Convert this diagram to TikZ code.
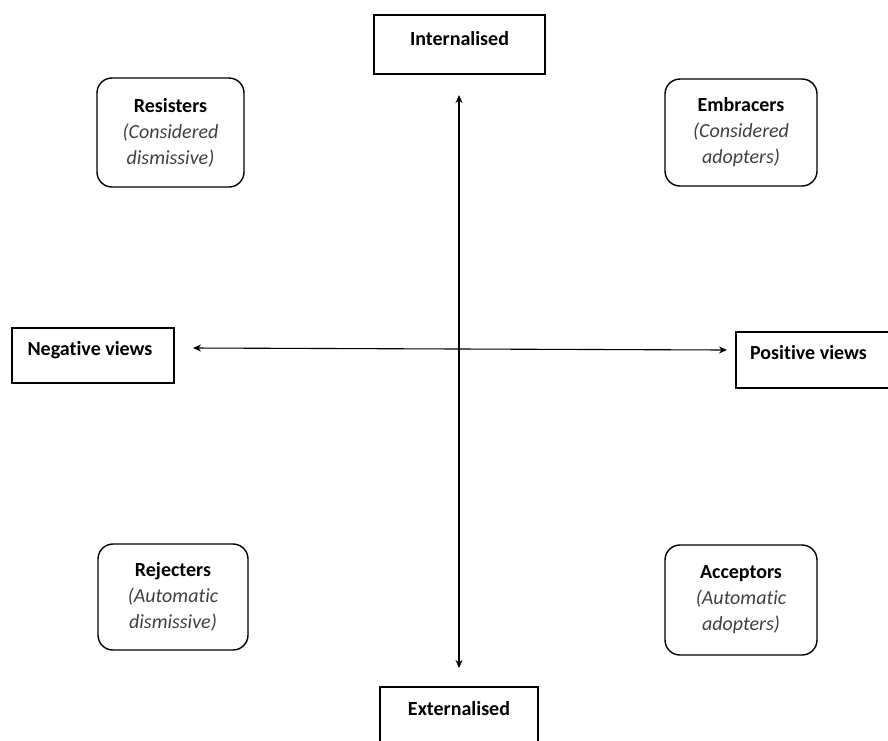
\documentclass[tikz,border=0pt]{standalone}
\usepackage{fontspec}
\setmainfont{Carlito}[Ligatures={NoCommon,NoContextual}]
\usetikzlibrary{arrows.meta}
\definecolor{sub}{HTML}{404040}
\begin{document}
\begin{tikzpicture}[x=1pt,y=-1pt,
  axisbox/.style={draw, line width=1.4pt, inner sep=0pt},
  quadbox/.style={draw, line width=1.4pt, rounded corners=15pt, inner sep=0pt, align=center,
    font=\fontsize{20}{26}\selectfont},
  lbl/.style={inner sep=0pt, font=\fontsize{20}{26}\selectfont\bfseries},
  axis/.style={line width=1.1pt, {Stealth[length=8pt,width=7pt]}-{Stealth[length=8pt,width=7pt]}}]
\clip (0,0) rectangle (888,740);
\useasboundingbox (0,0) rectangle (888,740);
% axis boxes
\node[axisbox, minimum width=171pt, minimum height=59pt] (inbox) at (459.5,44.5) {};
\node[lbl] (intxt) at (459.5,39) {Internalised};
\node[axisbox, minimum width=158pt, minimum height=73pt] (exbox) at (459,723.5) {};
\node[lbl] (extxt) at (459,709) {Externalised};
\node[axisbox, minimum width=162pt, minimum height=55pt] (negbox) at (93,355.5) {};
\node[lbl] (negtxt) at (90,350) {Negative views};
\node[axisbox, minimum width=164pt, minimum height=56pt] (posbox) at (818,360) {};
\node[lbl] (postxt) at (808.5,353) {Positive views};
% quadrant boxes
\node[quadbox, minimum width=147pt, minimum height=109pt] (res) at (170.5,132.5)
  {\textbf{Resisters}\\\textcolor{sub}{\itshape (Considered}\\\textcolor{sub}{\itshape dismissive)}};
\node[quadbox, minimum width=152pt, minimum height=107pt] (emb) at (741,132.5)
  {\textbf{Embracers}\\\textcolor{sub}{\itshape (Considered}\\\textcolor{sub}{\itshape adopters)}};
\node[quadbox, minimum width=150pt, minimum height=106pt] (rej) at (173,597)
  {\textbf{Rejecters}\\\textcolor{sub}{\itshape (Automatic}\\\textcolor{sub}{\itshape dismissive)}};
\node[quadbox, minimum width=152pt, minimum height=110pt] (acc) at (741,600)
  {\textbf{Acceptors}\\\textcolor{sub}{\itshape (Automatic}\\\textcolor{sub}{\itshape adopters)}};
% axes
\coordinate (top) at (459,95);
\coordinate (bot) at (459,668);
\coordinate (lft) at (193,348);
\coordinate (rgt) at (727,350);
\draw[axis] (top) -- (bot);
\draw[axis] (lft) -- (rgt);
\end{tikzpicture}
\end{document}
